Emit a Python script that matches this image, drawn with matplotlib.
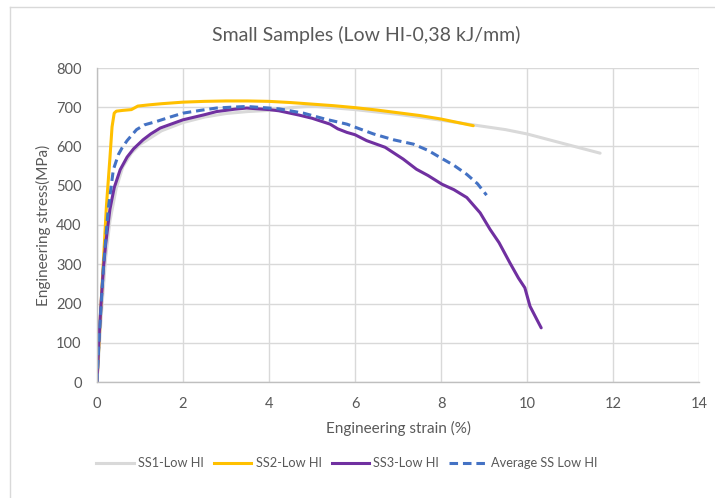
import matplotlib
matplotlib.use("Agg")
import matplotlib.pyplot as plt
from matplotlib.lines import Line2D

# --- data (strain %, stress MPa) ---
ss1_x = [0, 0.1, 0.2, 0.3, 0.45, 0.6, 0.8, 1.0, 1.5, 2.0, 2.5, 3.0, 3.5, 4.0,
         4.5, 5.0, 6.0, 7.0, 8.0, 8.75, 9.5, 10.0, 10.9, 11.7]
ss1_y = [0, 170, 315, 410, 495, 548, 583, 605, 640, 661, 675, 684, 689, 692,
         699, 703, 694, 682, 667, 655, 643, 632, 606, 583]

ss2_x = [0, 0.07, 0.15, 0.22, 0.3, 0.35, 0.4, 0.45, 0.6, 0.8, 0.85, 0.95, 1.2,
         1.5, 2.0, 2.5, 3.0, 3.5, 4.0, 4.5, 5.0, 5.5, 6.0, 6.5, 7.0, 7.5, 8.0, 8.75]
ss2_y = [0, 150, 310, 450, 570, 650, 685, 690, 692, 694, 697, 703, 706,
         709, 713, 715, 716, 716, 715, 712, 708, 704, 699, 693, 686, 679, 670, 653]

ss3_x = [0, 0.05, 0.1, 0.15, 0.2, 0.3, 0.4, 0.54, 0.7, 0.85, 1.07, 1.25, 1.47,
         2.0, 2.5, 2.78, 3.2, 3.48, 4.0, 4.23, 4.7, 5.0, 5.42, 5.6, 5.81, 6.0,
         6.27, 6.7, 7.12, 7.43, 7.7, 8.02, 8.3, 8.6, 8.91, 9.14, 9.35, 9.6, 9.8,
         9.95, 10.07, 10.23, 10.33]
ss3_y = [0, 120, 210, 290, 350, 440, 495, 541, 573, 594, 617, 632, 647,
         668, 681, 689, 695, 698, 694, 691, 680, 672, 657, 645, 636, 630,
         615, 598, 568, 542, 526, 504, 490, 470, 431, 389, 355, 304, 265,
         240, 193, 159, 138]

avg_x = [0, 0.05, 0.15, 0.26, 0.38, 0.5, 0.58, 0.7, 0.92, 1.1, 1.39, 1.7, 2.0,
         2.4, 2.78, 3.1, 3.48, 4.0, 4.23, 4.8, 5.3, 5.81, 6.43, 6.9, 7.36, 7.7,
         7.98, 8.3, 8.6, 8.85, 9.06]
avg_y = [0, 110, 294, 439, 541, 580, 596, 615, 643, 655, 664, 675, 685,
         692, 698, 700, 702, 698, 696, 685, 670, 657, 632, 617, 606, 590,
         572, 552, 529, 505, 476]

labels = ["SS1-Low HI", "SS2-Low HI", "SS3-Low HI", "Average SS Low HI"]
colors = ["#D9D9D9", "#FFC000", "#7030A0", "#4472C4"]
x_ticks = [0, 2, 4, 6, 8, 10, 12, 14]
y_ticks = [0, 100, 200, 300, 400, 500, 600, 700, 800]

plt.rcParams['font.family'] = ['Lato', 'DejaVu Sans']
txt = "#595959"
grid_c = "#D9D9D9"

fig = plt.figure(figsize=(7.15, 4.98), dpi=100)
ax = fig.add_axes([97 / 715, 1 - 382 / 498, (699 - 97) / 715, (382 - 68) / 498])

lw = 2.2
ax.plot(ss1_x, ss1_y, color=colors[0], lw=lw, label=labels[0], solid_capstyle='round')
ax.plot(ss2_x, ss2_y, color=colors[1], lw=lw, label=labels[1], solid_capstyle='round')
ax.plot(ss3_x, ss3_y, color=colors[2], lw=lw, label=labels[2], solid_capstyle='round')
ax.plot(avg_x, avg_y, color=colors[3], lw=lw, ls=(0, (2.8, 1.6)), label=labels[3])

ax.set_xlim(0, 14)
ax.set_ylim(0, 800)
ax.set_xticks(x_ticks)
ax.set_yticks(y_ticks)
ax.grid(True, color=grid_c, lw=1.0)
ax.set_axisbelow(True)
for side in ['top', 'right']:
    ax.spines[side].set_visible(False)
for side in ['left', 'bottom']:
    ax.spines[side].set_color("#BFBFBF")
    ax.spines[side].set_linewidth(1.0)
ax.tick_params(length=0, colors=txt, labelsize=10.5)
ax.tick_params(axis='x', pad=11)
ax.tick_params(axis='y', pad=11)

ax.set_xlabel("Engineering strain (%)", fontsize=11, color=txt, labelpad=7)
ax.set_ylabel("Engineering stress(MPa)", fontsize=11, color=txt, labelpad=4)
fig.text(0.5 * (97 + 699) / 715 - 0.045, 1 - 35 / 498,
         "Small Samples (Low HI-0,38 kJ/mm)", ha='center', va='center',
         fontsize=14, color=txt)

handles = [Line2D([], [], color=colors[0], lw=lw),
           Line2D([], [], color=colors[1], lw=lw),
           Line2D([], [], color=colors[2], lw=lw),
           Line2D([], [], color=colors[3], lw=lw, ls=(0, (2.8, 1.6)))]
fig.legend(handles, labels, loc='center', bbox_to_anchor=(347 / 715, 1 - 463 / 498),
           ncol=4, frameon=False, fontsize=9.2, handlelength=2.9,
           columnspacing=0.8, handletextpad=0.35, labelcolor=txt)

# light chart-area border (top and left edges visible in the reference)
fig.add_artist(Line2D([10 / 715, 10 / 715], [0, 1 - 7 / 498], color=grid_c, lw=1.0))
fig.add_artist(Line2D([10 / 715, 1], [1 - 7 / 498, 1 - 7 / 498], color=grid_c, lw=1.0))

fig.savefig("out.png", dpi=100)
